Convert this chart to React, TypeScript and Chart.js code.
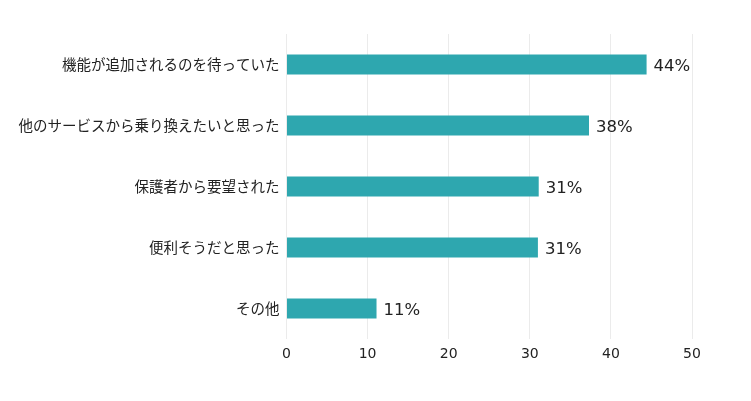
import React, { useEffect, useRef } from "react";
import { Chart, registerables } from "chart.js";

Chart.register(...registerables);

const categories = [
  "機能が追加されるのを待っていた",
  "他のサービスから乗り換えたいと思った",
  "保護者から要望された",
  "便利そうだと思った",
  "その他",
];
const values = [44.4, 37.3, 31.1, 31.0, 11.1];
const valueLabels = ["44%", "38%", "31%", "31%", "11%"];
const xTicks = [0, 10, 20, 30, 40, 50];

const FONT = "'Noto Sans CJK JP', 'Noto Sans', sans-serif";
const NUM_FONT = "'DejaVu Sans', 'Noto Sans', sans-serif";

const labelPlugin = {
  id: "valueLabels",
  afterDatasetsDraw(chart: any) {
    const ctx = chart.ctx;
    const meta = chart.getDatasetMeta(0);
    ctx.save();
    ctx.font = `16.5px ${NUM_FONT}`;
    ctx.fillStyle = "#222222";
    ctx.textAlign = "left";
    ctx.textBaseline = "middle";
    meta.data.forEach((bar: any, i: number) => {
      ctx.fillText(valueLabels[i], bar.x + 7, bar.y + 2);
    });
    ctx.restore();
  },
};

export default function App() {
  const ref = useRef<HTMLCanvasElement | null>(null);
  useEffect(() => {
    document.body.style.margin = "0";
    const canvas = ref.current!;
    const chart = new Chart(canvas, {
      type: "bar",
      data: {
        labels: categories,
        datasets: [
          {
            data: values,
            backgroundColor: "#2EA7AF",
            borderWidth: 0,
            barPercentage: 0.66,
            categoryPercentage: 0.5,
          },
        ],
      },
      options: {
        indexAxis: "y",
        animation: false,
        responsive: false,
        devicePixelRatio: 1,
        layout: { padding: { left: 0, right: 59, top: 34, bottom: 0 } },
        plugins: { legend: { display: false }, tooltip: { enabled: false } },
        scales: {
          x: {
            min: 0,
            max: 50,
            afterBuildTicks(axis: any) {
              axis.ticks = xTicks.map((v) => ({ value: v }));
            },
            afterFit(axis: any) {
              axis.height = 62;
            },
            grid: { color: "#ebebeb", drawTicks: false, lineWidth: 1 },
            border: { display: false },
            ticks: {
              padding: 7,
              color: "#222222",
              font: { family: NUM_FONT, size: 14 },
            },
          },
          y: {
            afterFit(axis: any) {
              axis.width = 286.5;
            },
            grid: { display: false, drawTicks: false },
            border: { display: false },
            ticks: {
              padding: 7,
              color: "#222222",
              font: { family: FONT, size: 14.5 },
            },
          },
        },
      },
      plugins: [labelPlugin],
    });
    return () => chart.destroy();
  }, []);
  return (
    <div style={{ width: 751, height: 401, background: "#fff" }}>
      <canvas ref={ref} width={751} height={401} style={{ display: "block" }} />
    </div>
  );
}
